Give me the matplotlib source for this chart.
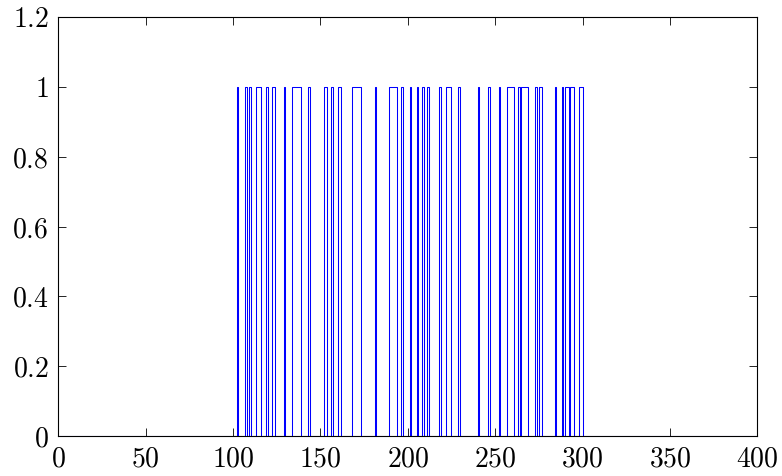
import numpy as np
import matplotlib
matplotlib.use('Agg')
import matplotlib.pyplot as plt

plt.rcParams['mathtext.fontset'] = 'cm'
plt.rcParams['font.family'] = 'serif'
plt.rcParams['font.serif'] = ['DejaVu Serif']

# pulse intervals (signal = 1 on [start, end))
pulse_starts = [102, 107, 109, 113, 119, 122, 129, 134, 143, 152, 156, 160,
                168, 181, 189, 196, 201, 205, 208, 211, 218, 222, 229, 240,
                246, 252, 257, 263, 265, 273, 275, 284, 288, 290, 293, 298]
pulse_ends = [103, 108, 110, 116, 120, 124, 130, 139, 144, 154, 157, 162,
              173, 182, 194, 197, 202, 206, 209, 212, 219, 225, 230, 241,
              247, 253, 261, 264, 269, 274, 277, 285, 289, 292, 295, 300]

x_ticks = [0, 50, 100, 150, 200, 250, 300, 350, 400]
y_ticks = [0, 0.2, 0.4, 0.6, 0.8, 1, 1.2]
y_tick_labels = ['0', '0.2', '0.4', '0.6', '0.8', '1', '1.2']

t = np.arange(0, 401)
signal = np.zeros(len(t))
for s, e in zip(pulse_starts, pulse_ends):
    signal[(t >= s) & (t < e)] = 1

fig = plt.figure(figsize=(7.82, 4.76), dpi=100)
ax = fig.add_axes([0.0746, 0.084, 0.8938, 0.8803])
ax.plot(t, signal, drawstyle='steps-post', color='#0000ff', linewidth=0.75)

ax.set_xlim(0, 400)
ax.set_ylim(0, 1.2)
ax.set_xticks(x_ticks)
ax.set_xticklabels([f'${v}$' for v in x_ticks])
ax.set_yticks(y_ticks)
ax.set_yticklabels([f'${v}$' for v in y_tick_labels])
ax.tick_params(direction='in', length=6, width=0.6, top=True, right=True,
               labelsize=20, pad=7, colors='black')
for sp in ax.spines.values():
    sp.set_linewidth(0.8)

fig.savefig('out.png', dpi=100)
